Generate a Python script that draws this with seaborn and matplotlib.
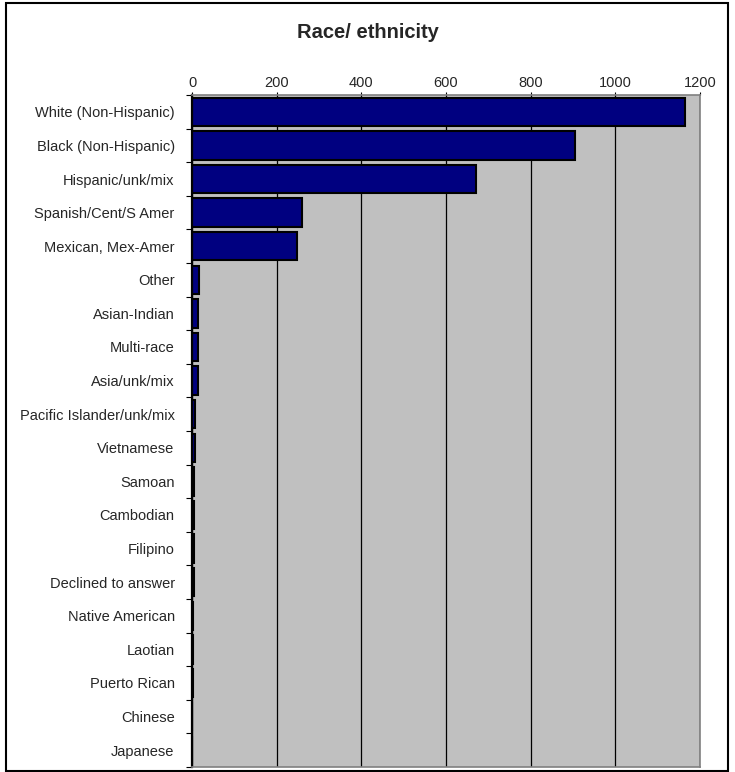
import numpy as np
import pandas as pd
import seaborn as sns
import matplotlib.pyplot as plt
from matplotlib.patches import Rectangle

categories = ['White (Non-Hispanic)', 'Black (Non-Hispanic)', 'Hispanic/unk/mix',
              'Spanish/Cent/S Amer', 'Mexican, Mex-Amer', 'Other', 'Asian-Indian',
              'Multi-race', 'Asia/unk/mix', 'Pacific Islander/unk/mix', 'Vietnamese',
              'Samoan', 'Cambodian', 'Filipino', 'Declined to answer',
              'Native American', 'Laotian', 'Puerto Rican', 'Chinese', 'Japanese']
counts = [1164, 904, 670, 261, 249, 17, 14, 13, 13, 8, 6, 5, 5, 4, 4, 3, 2, 2, 1, 1]
xticks = [0, 200, 400, 600, 800, 1000, 1200]

df = pd.DataFrame({'group': categories, 'n': counts})

sns.set_style('white')
plt.rcParams['font.family'] = ['Liberation Sans', 'DejaVu Sans']

fig = plt.figure(figsize=(7.35, 7.72), dpi=100)
ax = fig.add_axes([192/735, 1 - 767/772, 508/735, 672/772])

sns.barplot(data=df, x='n', y='group', orient='h', color='#000080',
            saturation=1, edgecolor='black', linewidth=1.5, width=0.84, ax=ax)

ax.set_facecolor('#C0C0C0')
ax.set_xlim(0, 1200)
ax.set_ylim(19.5, -0.5)
ax.set_xticks(xticks)
ax.xaxis.tick_top()
ax.grid(axis='x', color='black', linewidth=0.9)
ax.set_axisbelow(True)
ax.tick_params(axis='x', which='major', top=True, length=2.5, width=0.8,
               color='black', labelsize=10.5, pad=1)
ax.tick_params(axis='y', which='major', left=False, labelsize=10.5, pad=9)
ax.set_yticks(np.arange(-0.5, 20, 1), minor=True)
ax.tick_params(axis='y', which='minor', left=True, length=4, width=0.8, color='black')
ax.set_xlabel('')
ax.set_ylabel('')

for side in ['right', 'bottom', 'top']:
    ax.spines[side].set_color('#808080')
    ax.spines[side].set_linewidth(1.2)
ax.spines['left'].set_color('black')
ax.spines['left'].set_linewidth(1.6)

fig.text(0.5, 1 - 33/772, 'Race/ ethnicity', ha='center', va='center',
         fontsize=14.5, fontweight='bold')

fig.patches.append(Rectangle((6/735, 1 - 771/772), 722/735, 768/772,
                             transform=fig.transFigure, fill=False,
                             edgecolor='black', linewidth=1.5))

fig.savefig('out.png', dpi=100)
